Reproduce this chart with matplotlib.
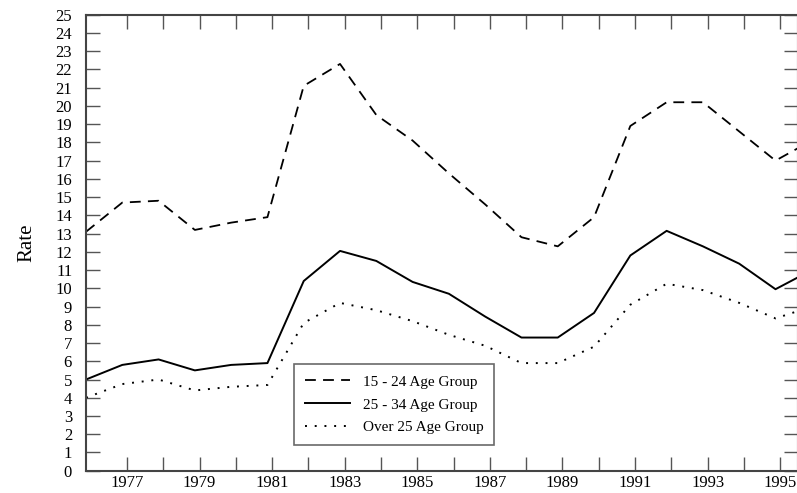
import numpy as np
import matplotlib
matplotlib.use('Agg')
import matplotlib.pyplot as plt

years = list(range(1976, 1997))
age_15_24 = [13.1, 14.7, 14.8, 13.2, 13.6, 13.9, 21.1, 22.3, 19.5, 18.1, 16.3, 14.6,
             12.8, 12.3, 13.9, 18.9, 20.2, 20.2, 18.6, 17.0, 18.1]
age_25_34 = [5.0, 5.8, 6.1, 5.5, 5.8, 5.9, 10.4, 12.05, 11.5, 10.35, 9.7, 8.45,
             7.3, 7.3, 8.65, 11.8, 13.15, 12.3, 11.35, 9.95, 11.0]
over_25 = [4.0, 4.75, 5.0, 4.4, 4.6, 4.7, 8.1, 9.2, 8.8, 8.2, 7.45, 6.85,
           5.9, 5.9, 6.8, 9.1, 10.25, 9.9, 9.2, 8.35, 9.0]
tick_years = list(range(1977, 1996))

plt.rcParams['font.family'] = ['Liberation Serif', 'DejaVu Serif']

fig = plt.figure(figsize=(7.97, 4.93), dpi=100)
ax = fig.add_axes([86/797, 22.3/493, 712/797, 456/493])

ax.plot(years, age_15_24, color='black', lw=1.3, ls=(0, (6, 4)), label='15 - 24 Age Group')
ax.plot(years, age_25_34, color='black', lw=1.4, ls='-', label='25 - 34 Age Group')
ax.plot(years, over_25, color='black', lw=1.4, ls=(0, (1, 4)), label='Over 25 Age Group')

ax.set_xlim(1976, 1995.62)
ax.set_ylim(0, 25)

# ticks sit slightly to the right of the data years in the original
ax.set_xticks([y + 0.13 for y in tick_years])
ax.set_xticklabels([str(y) if y % 2 == 1 else '' for y in tick_years])
ax.set_yticks(range(0, 26))
ax.tick_params(axis='both', direction='in', length=10, width=1, color='#555555',
               labelsize=12, top=True, right=True)
ax.tick_params(axis='x', pad=3)
ax.tick_params(axis='y', pad=10)
for s in ax.spines.values():
    s.set_color('#444444')
    s.set_linewidth(1.5)

ax.set_ylabel('Rate', fontsize=15, labelpad=14)

leg = ax.legend(loc='lower left', bbox_to_anchor=(0.292, 0.056), fontsize=11,
                frameon=True, fancybox=False, edgecolor='#444444', handlelength=3.0,
                borderpad=0.7, labelspacing=0.6, borderaxespad=0)
leg.get_frame().set_linewidth(1.2)

fig.savefig('out.png', dpi=100)
